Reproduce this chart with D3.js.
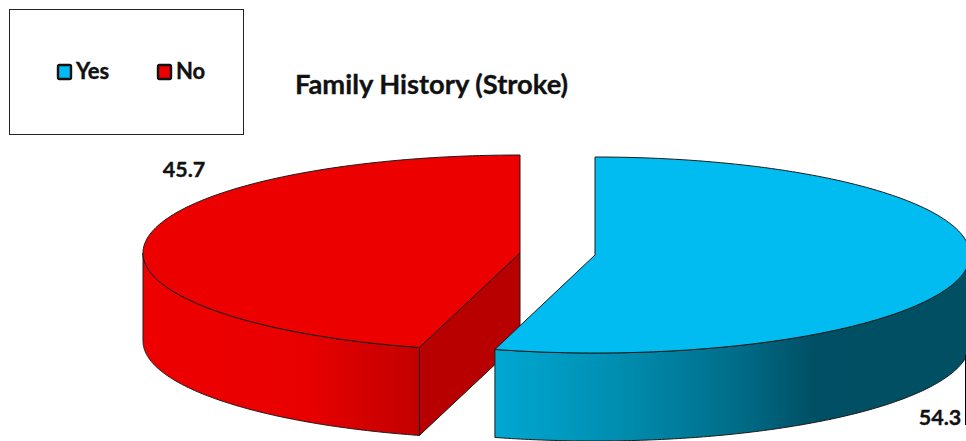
<!DOCTYPE html>
<html>
<head>
<meta charset="utf-8">
<script src="https://cdn.jsdelivr.net/npm/d3@7"></script>
<style>
    html, body { margin: 0; padding: 0; background: #fff; }
    svg { display: block; }
    text { font-family: Lato, "Open Sans", sans-serif; font-weight: 700; fill: #111; stroke: #111; stroke-width: 0.35px; }
</style>
</head>
<body>
<div id="chart"></div>
<script>
const width = 966;
const height = 441;

const categories = ['Yes', 'No'];
const values = [54.3, 45.7];
const topColors = ['#00bcf0', '#ec0000'];
const title = 'Family History (Stroke)';

// Each slice is pulled apart, so each one has its own ellipse
const discs = [
    { cx: 595, cy: 255, rx: 375, ry: 98 },
    { cx: 520, cy: 253, rx: 377, ry: 98 },
];
const depth = 88;

const labelPos = [[940, 425], [184, 177]];
const legendX = [57, 157];

const svg = d3.select('#chart').append('svg')
    .attr('width', width)
    .attr('height', height);

const defs = svg.append('defs');

function addGradient(id, x1, x2, stops) {
    const g = defs.append('linearGradient')
        .attr('id', id)
        .attr('gradientUnits', 'userSpaceOnUse')
        .attr('x1', x1).attr('x2', x2)
        .attr('y1', 0).attr('y2', 0);
    stops.forEach(([o, c]) => g.append('stop').attr('offset', o).attr('stop-color', c));
}

addGradient('wall-yes', 494, 966, [
    [0, '#00a8d2'], [0.25, '#008fb2'], [0.5, '#006f8c'], [0.68, '#004f64'], [1, '#004f62'],
]);
addGradient('wall-no', 143, 419, [
    [0, '#ee0000'], [0.6, '#e80000'], [0.82, '#d20000'], [1, '#c40000'],
]);

const pie = d3.pie().sort(null).value(d => d);
const slices = pie(values);

const line = d3.line();

function onRim(disc, a, dy = 0) {
    return [disc.cx + disc.rx * Math.sin(a), disc.cy - disc.ry * Math.cos(a) + dy];
}

function rim(disc, a0, a1, dy = 0) {
    const n = 160;
    return d3.range(n + 1).map(i => onRim(disc, a0 + (a1 - a0) * i / n, dy));
}

function drawWall(disc, a0, a1, fill) {
    const pts = rim(disc, a0, a1).concat(rim(disc, a1, a0, depth));
    svg.append('path')
        .attr('d', line(pts) + 'Z')
        .attr('fill', fill)
        .attr('stroke', '#1c1c1c')
        .attr('stroke-width', 1);
}

function drawTop(disc, a0, a1, fill) {
    const pts = [[disc.cx, disc.cy]].concat(rim(disc, a0, a1));
    svg.append('path')
        .attr('d', line(pts) + 'Z')
        .attr('fill', fill)
        .attr('stroke', '#1c1c1c')
        .attr('stroke-width', 1)
        .attr('stroke-linejoin', 'round');
}

// red slice first, the blue one sits on top of its cut face
const no = slices[1];
const noDisc = discs[1];
const noEnd = onRim(noDisc, no.startAngle);
svg.append('path')
    .attr('d', line([
        [noDisc.cx, noDisc.cy],
        noEnd,
        [noEnd[0], noEnd[1] + depth],
        [noDisc.cx, noDisc.cy + depth],
    ]) + 'Z')
    .attr('fill', '#b90000')
    .attr('stroke', '#1c1c1c');
drawWall(noDisc, no.startAngle, Math.PI * 1.5, 'url(#wall-no)');
drawTop(noDisc, no.startAngle, no.endAngle, topColors[1]);

const yes = slices[0];
const yesDisc = discs[0];
drawWall(yesDisc, Math.PI / 2, yes.endAngle, 'url(#wall-yes)');
drawTop(yesDisc, yes.startAngle, yes.endAngle, topColors[0]);

// stray frame line next to the 54.3 label
svg.append('line')
    .attr('x1', 965.5).attr('x2', 965.5)
    .attr('y1', 355).attr('y2', 425)
    .attr('stroke', '#000')
    .attr('stroke-width', 1);

// value labels
svg.selectAll('.value')
    .data(values)
    .join('text')
    .attr('class', 'value')
    .attr('x', (d, i) => labelPos[i][0])
    .attr('y', (d, i) => labelPos[i][1])
    .attr('text-anchor', 'middle')
    .attr('font-size', 21.5)
    .text(d => d);

svg.append('text')
    .attr('x', 431.5)
    .attr('y', 94)
    .attr('text-anchor', 'middle')
    .attr('font-size', 27.3)
    .text(title);

// legend box
svg.append('rect')
    .attr('x', 9.5).attr('y', 9.5)
    .attr('width', 234).attr('height', 125)
    .attr('fill', '#fff')
    .attr('stroke', '#222')
    .attr('stroke-width', 1);

const legend = svg.selectAll('.legend')
    .data(categories)
    .join('g')
    .attr('class', 'legend')
    .attr('transform', (d, i) => `translate(${legendX[i]},65)`);

legend.append('rect')
    .attr('x', 1).attr('y', 0)
    .attr('width', 13).attr('height', 14)
    .attr('rx', 1.5)
    .attr('fill', (d, i) => topColors[i])
    .attr('stroke', '#111')
    .attr('stroke-width', 2.4);

legend.append('text')
    .attr('x', 19)
    .attr('y', 14)
    .attr('font-size', 22)
    .text(d => d);
</script>
</body>
</html>
